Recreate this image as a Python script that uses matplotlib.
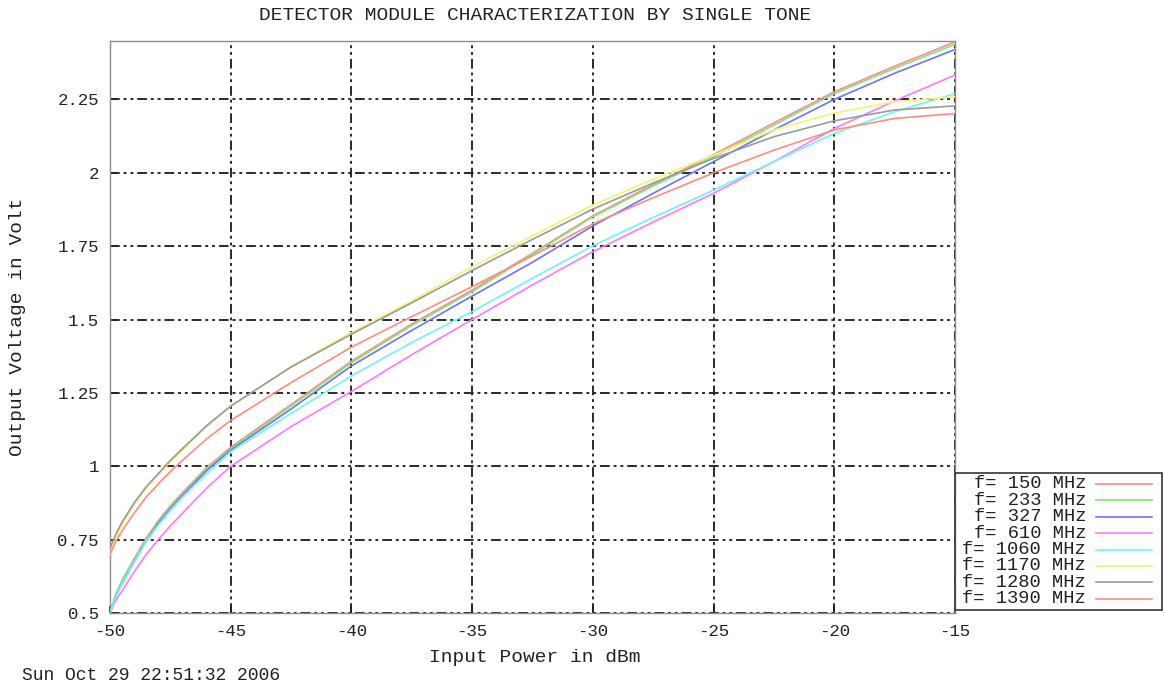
import matplotlib
matplotlib.use("Agg")
import matplotlib.pyplot as plt
from matplotlib.lines import Line2D
from matplotlib.patches import Rectangle

plt.rcParams["font.family"] = ["Liberation Mono", "DejaVu Sans Mono"]
FS = 12.5

# input power (dBm) sample points
p_dbm = [-50, -49.75, -49.5, -49, -48.5, -48, -47.5, -47, -46, -45, -42.5, -40,
         -37.5, -35, -32.5, -30, -27.5, -25, -22.5, -20, -17.5, -15]

v_150 = [0.50, 0.565, 0.61, 0.685, 0.755, 0.815, 0.865, 0.91, 0.995, 1.065, 1.21,
         1.358, 1.485, 1.60, 1.726, 1.853, 1.96, 2.062, 2.17, 2.276, 2.363, 2.446]
v_233 = [0.50, 0.565, 0.61, 0.68, 0.75, 0.81, 0.86, 0.905, 0.99, 1.06, 1.205,
         1.353, 1.48, 1.595, 1.722, 1.850, 1.955, 2.055, 2.163, 2.270, 2.356, 2.438]
v_327 = [0.50, 0.56, 0.60, 0.675, 0.745, 0.805, 0.855, 0.90, 0.985, 1.055, 1.195,
         1.342, 1.463, 1.580, 1.695, 1.819, 1.930, 2.038, 2.146, 2.250, 2.339, 2.420]
v_610 = [0.50, 0.545, 0.575, 0.64, 0.70, 0.75, 0.797, 0.84, 0.925, 1.00, 1.135,
         1.255, 1.38, 1.50, 1.618, 1.731, 1.832, 1.930, 2.038, 2.151, 2.245, 2.333]
v_1060 = [0.50, 0.56, 0.60, 0.675, 0.745, 0.80, 0.85, 0.895, 0.975, 1.05, 1.18,
          1.308, 1.422, 1.527, 1.641, 1.751, 1.848, 1.941, 2.038, 2.134, 2.208, 2.270]
v_1170 = [0.70, 0.755, 0.80, 0.87, 0.925, 0.97, 1.015, 1.055, 1.135, 1.205, 1.34,
          1.455, 1.563, 1.680, 1.785, 1.890, 1.978, 2.060, 2.146, 2.204, 2.242, 2.259]
v_1280 = [0.72, 0.77, 0.81, 0.875, 0.93, 0.975, 1.02, 1.06, 1.138, 1.205, 1.338,
          1.450, 1.557, 1.667, 1.773, 1.876, 1.965, 2.049, 2.123, 2.177, 2.214, 2.228]
v_1390 = [0.70, 0.745, 0.78, 0.84, 0.895, 0.94, 0.982, 1.02, 1.093, 1.156, 1.285,
          1.406, 1.51, 1.612, 1.717, 1.826, 1.915, 2.000, 2.077, 2.146, 2.185, 2.202]

freqs = [150, 233, 327, 610, 1060, 1170, 1280, 1390]
series = [v_150, v_233, v_327, v_610, v_1060, v_1170, v_1280, v_1390]
colors = ["#ff8a8a", "#7ae87a", "#7070ff", "#ff78ff", "#70f4f4", "#f4f470",
          "#9a9a9a", "#ff8c7c"]

xticks = [-50, -45, -40, -35, -30, -25, -20, -15]
yticks = [0.5, 0.75, 1.0, 1.25, 1.5, 1.75, 2.0, 2.25]

W, H = 1164, 684
fig = plt.figure(figsize=(W / 100, H / 100), dpi=100)
fig.patch.set_facecolor("white")
ax = fig.add_axes([110 / W, 1 - 613 / H, (955 - 110) / W, (613 - 41) / H])

for vals, c in zip(series, colors):
    ax.plot(p_dbm, vals, color=c, lw=1.2, zorder=3)

ax.set_xlim(-50, -15)
ax.set_ylim(0.5, 2.449)
ax.set_xticks(xticks)
ax.set_xticklabels([str(t) for t in xticks], fontsize=FS)
ax.set_yticks(yticks)
ax.set_yticklabels([f"{t:g}" for t in yticks], fontsize=FS)
ax.tick_params(direction="in", length=5, width=1.2, color="#222222", pad=8,
               labelcolor="#222222", top=False, right=False)

gls = (0, (5, 2, 1.5, 2, 1.5, 2))
ax.grid(True, color="#2a2a2a", lw=1.4, ls=gls, zorder=1)
for s in ax.spines.values():
    s.set_color("#8a8a8a")
    s.set_linewidth(1.0)

# texts
fig.text(535 / W, 1 - 15 / H, "DETECTOR MODULE CHARACTERIZATION BY SINGLE TONE",
         ha="center", va="center", fontsize=14, color="#222222")
fig.text(535 / W, 1 - 658 / H, "Input Power in dBm", ha="center", va="center",
         fontsize=14, color="#222222")
fig.text(18 / W, 1 - 327 / H, "Output Voltage in Volt", ha="center", va="center",
         rotation=90, fontsize=14, color="#222222")
fig.text(22 / W, 1 - 676 / H, "Sun Oct 29 22:51:32 2006", ha="left", va="center",
         fontsize=13, color="#222222")

# legend box outside the axes, gnuplot style
fig.add_artist(Rectangle((955 / W, 1 - 610 / H), (1162 - 955) / W, (610 - 473) / H,
                         transform=fig.transFigure, fill=False,
                         edgecolor="#444444", lw=1.3))
for i, (f, c) in enumerate(zip(freqs, colors)):
    yy = 1 - (484 + i * 16.4) / H
    fig.text(1086 / W, yy, f"f= {f} MHz", ha="right", va="center",
             fontsize=13.5, color="#222222")
    fig.add_artist(Line2D([1096 / W, 1152 / W], [yy, yy], transform=fig.transFigure,
                          color=c, lw=1.2))

fig.savefig("out.png", dpi=100, facecolor="white")
